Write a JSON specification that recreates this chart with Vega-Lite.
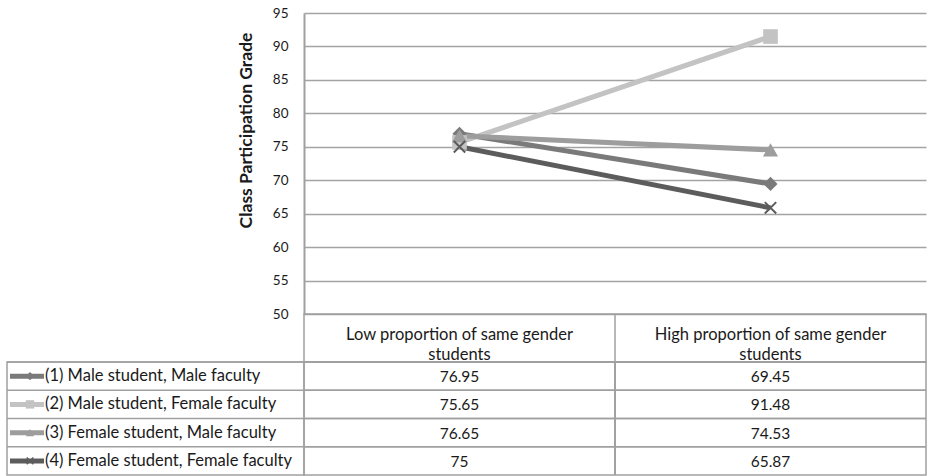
{
  "$schema": "https://vega.github.io/schema/vega-lite/v6.json",
  "background": "white",
  "padding": {"left": 5, "top": 6, "right": 0, "bottom": 0},
  "config": {
    "font": "Lato",
    "view": {"stroke": "#a0a0a0", "strokeWidth": 1.5},
    "text": {"font": "Lato", "fontSize": 16.5, "color": "#1a1a1a"}
  },
  "datasets": {
    "grades": [
      {"series": "(1) Male student, Male faculty", "cat": "Low proportion of same gender\nstudents", "value": 76.95},
      {"series": "(1) Male student, Male faculty", "cat": "High proportion of same gender\nstudents", "value": 69.45},
      {"series": "(2) Male student, Female faculty", "cat": "Low proportion of same gender\nstudents", "value": 75.65},
      {"series": "(2) Male student, Female faculty", "cat": "High proportion of same gender\nstudents", "value": 91.48},
      {"series": "(3) Female student, Male faculty", "cat": "Low proportion of same gender\nstudents", "value": 76.65},
      {"series": "(3) Female student, Male faculty", "cat": "High proportion of same gender\nstudents", "value": 74.53},
      {"series": "(4) Female student, Female faculty", "cat": "Low proportion of same gender\nstudents", "value": 75},
      {"series": "(4) Female student, Female faculty", "cat": "High proportion of same gender\nstudents", "value": 65.87}
    ],
    "cats": [
      {"cat": "Low proportion of same gender\nstudents"},
      {"cat": "High proportion of same gender\nstudents"}
    ],
    "series": [
      {"series": "(1) Male student, Male faculty"},
      {"series": "(2) Male student, Female faculty"},
      {"series": "(3) Female student, Male faculty"},
      {"series": "(4) Female student, Female faculty"}
    ]
  },
  "columns": 2,
  "spacing": 0,
  "bounds": "flush",
  "align": "each",
  "concat": [
    {
      "width": 297, "height": 301,
      "view": {"stroke": null},
      "data": {"values": []},
      "mark": "text",
      "encoding": {}
    },
    {
      "width": 622, "height": 301,
      "view": {"stroke": null},
      "data": {"name": "grades"},
      "encoding": {
        "x": {"field": "cat", "type": "nominal", "sort": null, "axis": null, "scale": {"type": "point", "padding": 0.5}},
        "y": {
          "field": "value", "type": "quantitative",
          "scale": {"domain": [50, 95], "nice": false, "zero": false},
          "axis": {
            "values": [50, 55, 60, 65, 70, 75, 80, 85, 90, 95],
            "title": "Class Participation Grade",
            "titleFont": "Lato", "titleFontSize": 17.5, "titleFontWeight": "bold", "titleColor": "#1a1a1a",
            "titlePadding": 17, "titleY": 117,
            "labelFont": "Lato", "labelFontSize": 13.5, "labelColor": "#1a1a1a", "labelPadding": 16,
            "ticks": false,
            "domainColor": "#a0a0a0", "domainWidth": 2,
            "grid": true, "gridColor": "#a3a3a3", "gridWidth": 1.5
          }
        },
        "color": {
          "field": "series", "type": "nominal", "legend": null,
          "scale": {
            "domain": ["(1) Male student, Male faculty", "(2) Male student, Female faculty", "(3) Female student, Male faculty", "(4) Female student, Female faculty"],
            "range": ["#7a7a7a", "#c3c3c3", "#9d9d9d", "#5c5c5c"]
          }
        }
      },
      "layer": [
        {"mark": {"type": "line", "strokeWidth": 5}},
        {
          "transform": [{"filter": "datum.series !== '(4) Female student, Female faculty'"}],
          "mark": {"type": "point", "filled": true, "opacity": 1},
          "encoding": {
            "shape": {
              "field": "series", "type": "nominal", "legend": null,
              "scale": {
                "domain": ["(1) Male student, Male faculty", "(2) Male student, Female faculty", "(3) Female student, Male faculty"],
                "range": ["diamond", "square", "triangle-up"]
              }
            },
            "size": {
              "field": "series", "type": "nominal", "legend": null,
              "scale": {
                "domain": ["(1) Male student, Male faculty", "(2) Male student, Female faculty", "(3) Female student, Male faculty"],
                "range": [200, 230, 170]
              }
            }
          }
        },
        {
          "transform": [{"filter": "datum.series === '(4) Female student, Female faculty'"}],
          "mark": {"type": "point", "filled": false, "opacity": 1, "shape": "M-1,-1L1,1M1,-1L-1,1", "size": 130, "strokeWidth": 2}
        }
      ]
    },
    {
      "width": 297, "height": 48,
      "view": {"stroke": null},
      "data": {"values": []},
      "mark": "text",
      "encoding": {}
    },
    {
      "width": 622, "height": 48,
      "data": {"name": "cats"},
      "encoding": {
        "x": {"field": "cat", "type": "nominal", "sort": null, "axis": null, "scale": {"paddingInner": 0, "paddingOuter": 0}}
      },
      "layer": [
        {"mark": {"type": "text", "lineBreak": "\n", "baseline": "middle", "lineHeight": 20, "dy": -3}, "encoding": {"text": {"field": "cat"}}},
        {
          "transform": [{"filter": "indexof(datum.cat, 'High') === 0"}],
          "mark": {"type": "rule", "color": "#a0a0a0", "strokeWidth": 1.5},
          "encoding": {"x": {"field": "cat", "type": "nominal", "sort": null, "bandPosition": 0}}
        }
      ]
    },
    {
      "width": 297, "height": 113,
      "data": {"name": "series"},
      "encoding": {
        "y": {"field": "series", "type": "nominal", "sort": null, "axis": null, "scale": {"paddingInner": 0, "paddingOuter": 0}},
        "color": {
          "field": "series", "type": "nominal", "legend": null,
          "scale": {
            "domain": ["(1) Male student, Male faculty", "(2) Male student, Female faculty", "(3) Female student, Male faculty", "(4) Female student, Female faculty"],
            "range": ["#7a7a7a", "#c3c3c3", "#9d9d9d", "#5c5c5c"]
          }
        }
      },
      "layer": [
        {"mark": {"type": "rule", "strokeWidth": 5, "x": 3, "x2": 37}},
        {
          "transform": [{"filter": "datum.series !== '(4) Female student, Female faculty'"}],
          "mark": {"type": "point", "filled": true, "opacity": 1, "x": 23},
          "encoding": {
            "shape": {
              "field": "series", "type": "nominal", "legend": null,
              "scale": {
                "domain": ["(1) Male student, Male faculty", "(2) Male student, Female faculty", "(3) Female student, Male faculty"],
                "range": ["diamond", "square", "triangle-up"]
              }
            },
            "size": {"value": 70}
          }
        },
        {
          "transform": [{"filter": "datum.series === '(4) Female student, Female faculty'"}],
          "mark": {"type": "point", "filled": false, "opacity": 1, "shape": "M-1,-1L1,1M1,-1L-1,1", "size": 45, "strokeWidth": 1.5, "x": 23}
        },
        {"mark": {"type": "text", "align": "left", "baseline": "middle", "x": 38}, "encoding": {"text": {"field": "series"}, "color": {"value": "#1a1a1a"}}},
        {
          "mark": {"type": "rule", "strokeWidth": 1.5},
          "encoding": {"y": {"field": "series", "type": "nominal", "sort": null, "bandPosition": 0}, "color": {"value": "#a0a0a0"}}
        }
      ]
    },
    {
      "width": 622, "height": 113,
      "data": {"name": "grades"},
      "encoding": {
        "x": {"field": "cat", "type": "nominal", "sort": null, "axis": null, "scale": {"paddingInner": 0, "paddingOuter": 0}},
        "y": {"field": "series", "type": "nominal", "sort": null, "axis": null, "scale": {"paddingInner": 0, "paddingOuter": 0}}
      },
      "layer": [
        {"mark": {"type": "text", "baseline": "middle", "fontSize": 15.5, "dy": 1}, "encoding": {"text": {"field": "value", "type": "quantitative"}}},
        {
          "mark": {"type": "rule", "color": "#a0a0a0", "strokeWidth": 1.5},
          "encoding": {"x": {"value": 0}, "x2": {"value": 622}, "y": {"field": "series", "type": "nominal", "sort": null, "bandPosition": 0}}
        },
        {
          "transform": [{"filter": "indexof(datum.cat, 'High') === 0"}],
          "mark": {"type": "rule", "color": "#a0a0a0", "strokeWidth": 1.5},
          "encoding": {"y": null, "x": {"field": "cat", "type": "nominal", "sort": null, "bandPosition": 0}}
        }
      ]
    }
  ]
}
